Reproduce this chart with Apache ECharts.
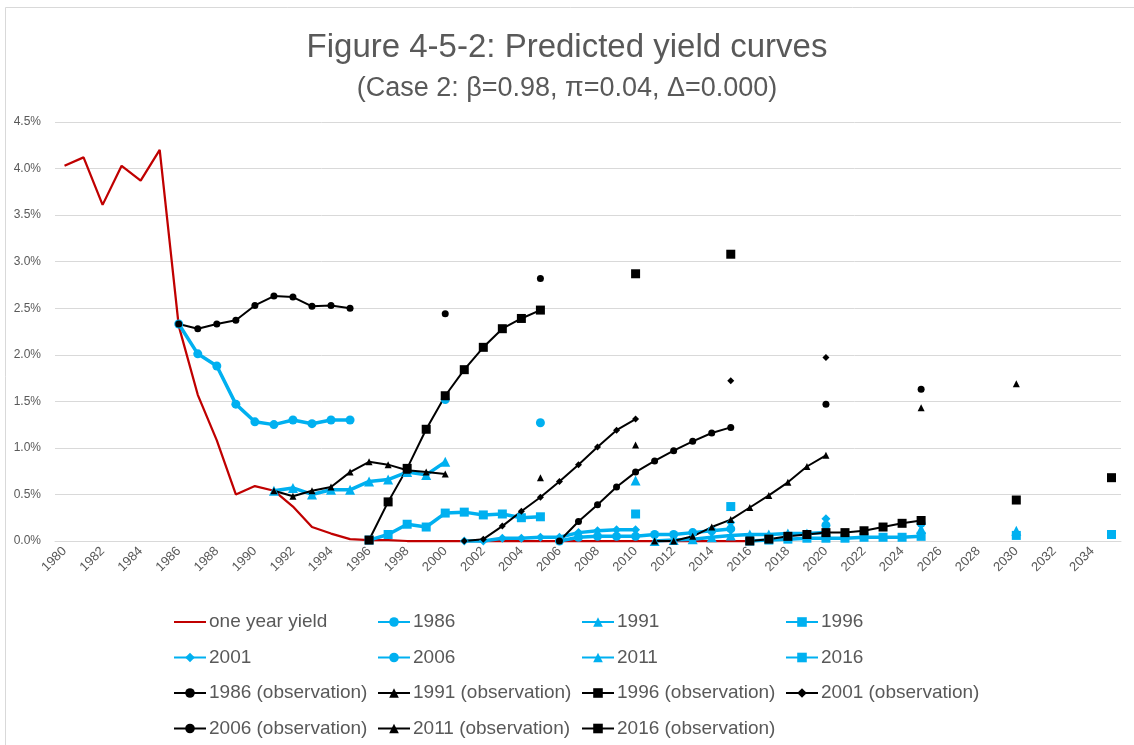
<!DOCTYPE html>
<html>
<head>
<meta charset="utf-8">
<script src="https://cdn.jsdelivr.net/npm/echarts@6/dist/echarts.min.js"></script>
<style>
  html, body { margin: 0; padding: 0; background: #fff; }
  #chart { width: 1134px; height: 745px; }
</style>
</head>
<body>
<div id="chart"></div>
<script>
// categories
const years = [1980, 1981, 1982, 1983, 1984, 1985, 1986, 1987, 1988, 1989,
  1990, 1991, 1992, 1993, 1994, 1995, 1996, 1997, 1998, 1999,
  2000, 2001, 2002, 2003, 2004, 2005, 2006, 2007, 2008, 2009,
  2010, 2011, 2012, 2013, 2014, 2015, 2016, 2017, 2018, 2019,
  2020, 2021, 2022, 2023, 2024, 2025, 2026, 2027, 2028, 2029,
  2030, 2031, 2032, 2033, 2034, 2035]

// one year yield, 1980-2016 (%)
const oneYearYield = [4.03, 4.12, 3.61, 4.03, 3.87, 4.20, 2.31, 1.57, 1.08, 0.50,
  0.59, 0.54, 0.37, 0.15, 0.08, 0.02, 0.01, 0.01, 0.00, 0.00,
  0.00, 0.00, 0.00, 0.00, 0.00, 0.00, 0.00, 0.00, 0.00, 0.00,
  0.00, 0.00, 0.00, 0.00, 0.00, 0.00, 0.00]

// predicted curves: maturities 1..10 years, then [15y, 20y]
const pred1986 = [2.33, 2.01, 1.88, 1.47, 1.28, 1.25, 1.30, 1.26, 1.30, 1.30]
const pred1986Long = [1.52, 1.27]
const pred1991 = [0.54, 0.57, 0.50, 0.55, 0.55, 0.64, 0.66, 0.74, 0.71, 0.85]
const pred1991Long = [null, 0.65]
const pred1996 = [0.01, 0.07, 0.18, 0.15, 0.30, 0.31, 0.28, 0.29, 0.25, 0.26]
const pred1996Long = [0.29, 0.37]
const pred2001 = [0.00, 0.00, 0.03, 0.03, 0.04, 0.04, 0.09, 0.11, 0.12, 0.12]
const pred2001Long = [0.20, 0.24]
const pred2006 = [0.00, 0.04, 0.05, 0.05, 0.05, 0.07, 0.07, 0.09, 0.11, 0.13]
const pred2006Long = [0.17, 0.19]
const pred2011 = [0.00, 0.01, 0.02, 0.04, 0.06, 0.07, 0.07, 0.08, 0.08, 0.09]
const pred2011Long = [0.13, 0.11]
const pred2016 = [0.00, 0.01, 0.02, 0.03, 0.03, 0.03, 0.04, 0.04, 0.04, 0.05]
const pred2016Long = [0.06, 0.07]

// observed curves
const obs1986 = [2.33, 2.28, 2.33, 2.37, 2.53, 2.63, 2.62, 2.52, 2.53, 2.50]
const obs1986Long = [2.44, 2.82]
const obs1991 = [0.54, 0.48, 0.54, 0.58, 0.74, 0.85, 0.82, 0.76, 0.74, 0.72]
const obs1991Long = [0.68, 1.03]
const obs1996 = [0.01, 0.42, 0.78, 1.20, 1.56, 1.84, 2.08, 2.28, 2.39, 2.48]
const obs1996Long = [2.87, 3.08]
const obs2001 = [0.00, 0.02, 0.16, 0.32, 0.47, 0.64, 0.82, 1.01, 1.19, 1.31]
const obs2001Long = [1.72, 1.97]
const obs2006 = [0.00, 0.21, 0.39, 0.58, 0.74, 0.86, 0.97, 1.07, 1.16, 1.22]
const obs2006Long = [1.47, 1.63]
const obs2011 = [0.00, 0.00, 0.05, 0.15, 0.23, 0.36, 0.49, 0.63, 0.80, 0.92]
const obs2011Long = [1.43, 1.69]
const obs2016 = [0.00, 0.02, 0.05, 0.07, 0.09, 0.09, 0.11, 0.15, 0.19, 0.22]
const obs2016Long = [0.44, 0.68]

const BLUE = '#00B0F0'
const RED = '#C00000'
const BLACK = '#000000'
const TEXT = '#595959'
const FONT = "'Liberation Sans', Arial, sans-serif"

// place a curve on the year axis (10 annual points, then 15y and 20y)
const curve = (start, tenYears, longEnds) => {
  const out = years.map(() => null)
  const i0 = years.indexOf(start)
  tenYears.forEach((v, k) => { out[i0 + k] = v })
  out[i0 + 14] = longEnds[0]
  out[i0 + 19] = longEnds[1]
  return out
}

const lineSeries = (name, data, color, width, symbol, size) => ({
  name,
  type: 'line',
  data,
  symbol,
  symbolSize: size,
  showSymbol: true,
  showAllSymbol: true,
  connectNulls: false,
  clip: false,
  lineStyle: { color, width },
  itemStyle: { color, borderWidth: 0 },
  emphasis: { disabled: true }
})

const predicted = [
  ['1986', 1986, pred1986, pred1986Long, 'circle', 9],
  ['1991', 1991, pred1991, pred1991Long, 'triangle', 10],
  ['1996', 1996, pred1996, pred1996Long, 'rect', 9],
  ['2001', 2001, pred2001, pred2001Long, 'diamond', 9],
  ['2006', 2006, pred2006, pred2006Long, 'circle', 9],
  ['2011', 2011, pred2011, pred2011Long, 'triangle', 10],
  ['2016', 2016, pred2016, pred2016Long, 'rect', 9]
]
const observed = [
  ['1986 (observation)', 1986, obs1986, obs1986Long, 'circle', 7],
  ['1991 (observation)', 1991, obs1991, obs1991Long, 'triangle', 7],
  ['1996 (observation)', 1996, obs1996, obs1996Long, 'rect', 9],
  ['2001 (observation)', 2001, obs2001, obs2001Long, 'diamond', 7],
  ['2006 (observation)', 2006, obs2006, obs2006Long, 'circle', 7],
  ['2011 (observation)', 2011, obs2011, obs2011Long, 'triangle', 7],
  ['2016 (observation)', 2016, obs2016, obs2016Long, 'rect', 9]
]

const series = [lineSeries('one year yield', oneYearYield, RED, 2.25, 'none', 0)]
predicted.forEach(([name, start, d, l, sym, size]) => {
  series.push(lineSeries(name, curve(start, d, l), BLUE, 3.5, sym, size))
})
observed.forEach(([name, start, d, l, sym, size]) => {
  series.push(lineSeries(name, curve(start, d, l), BLACK, 2, sym, size))
})

// legend laid out as 4 columns; the one year yield entry shows only its line
const legendCols = [
  [{ name: 'one year yield', itemStyle: { opacity: 0 } }, '2001', '1986 (observation)', '2006 (observation)'],
  ['1986', '2006', '1991 (observation)', '2011 (observation)'],
  ['1991', '2011', '1996 (observation)', '2016 (observation)'],
  ['1996', '2016', '2001 (observation)']
]
const colLeft = [168, 372, 576, 780]
const legend = legendCols.map((names, i) => ({
  data: names,
  orient: 'vertical',
  left: colLeft[i],
  top: 607,
  itemWidth: 32,
  itemHeight: 12,
  itemGap: 15.5,
  selectedMode: false,
  textStyle: { color: TEXT, fontSize: 19, fontFamily: FONT, lineHeight: 20, padding: [0, 0, 0, -2] }
}))

const chart = echarts.init(document.getElementById('chart'), null, { renderer: 'canvas' })

const option = {
  animation: false,
  backgroundColor: '#fff',
  title: [
    {
      text: 'Figure 4-5-2: Predicted yield curves',
      left: 'center',
      top: 26,
      textStyle: { color: TEXT, fontSize: 33, fontWeight: 'normal', fontFamily: FONT }
    },
    {
      text: '(Case 2: β=0.98, π=0.04, Δ=0.000)',
      left: 'center',
      top: 70,
      textStyle: { color: TEXT, fontSize: 27, fontWeight: 'normal', fontFamily: FONT }
    }
  ],
  graphic: [{
    type: 'rect',
    shape: { x: 5.5, y: 7.5, width: 1200, height: 800 },
    style: { fill: 'none', stroke: '#d9d9d9', lineWidth: 1 },
    silent: true
  }],
  legend,
  grid: { left: 55, right: 13, top: 122, bottom: 204, outerBoundsMode: 'none' },
  xAxis: {
    type: 'category',
    data: years,
    boundaryGap: true,
    axisLine: { lineStyle: { color: '#d9d9d9', width: 1 } },
    axisTick: { show: false },
    axisLabel: {
      interval: 1,
      rotate: 45,
      color: TEXT,
      fontSize: 13,
      fontFamily: FONT,
      margin: 8
    }
  },
  yAxis: {
    type: 'value',
    min: 0,
    max: 4.5,
    interval: 0.5,
    axisLine: { show: false },
    axisTick: { show: false },
    splitLine: { lineStyle: { color: '#d9d9d9', width: 1 } },
    axisLabel: {
      color: TEXT,
      fontSize: 12,
      fontFamily: FONT,
      margin: 14,
      formatter: v => v.toFixed(1) + '%'
    }
  },
  series
}

chart.setOption(option)
</script>
</body>
</html>
